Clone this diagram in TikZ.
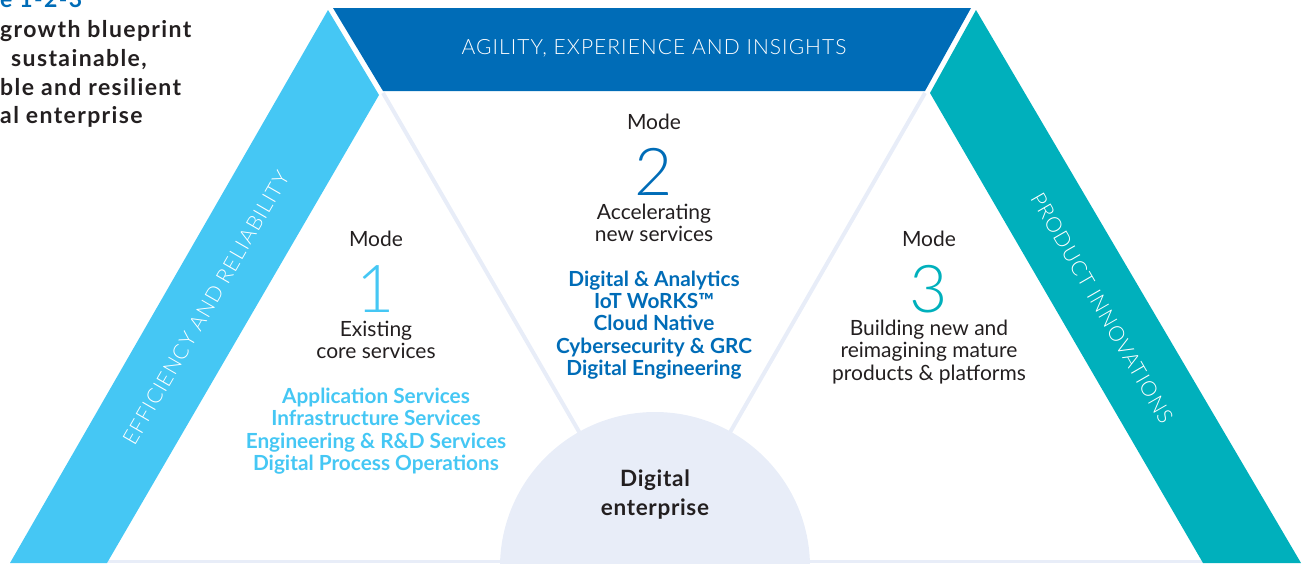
\documentclass[tikz,border=0pt]{standalone}
\usepackage{fontspec}
\setmainfont{Lato}
\newfontfamily\thinfont{Lato Light}
\definecolor{skyband}{HTML}{45C7F4}
\definecolor{blueband}{HTML}{006CB7}
\definecolor{tealband}{HTML}{00B0BC}
\definecolor{paleline}{HTML}{E8EDF8}
\definecolor{inktext}{HTML}{231F20}

\begin{document}
\begin{tikzpicture}[x=1pt,y=-1pt,
		bandtext/.style={text=white,font=\thinfont\addfontfeatures{LetterSpace=5}\fontsize{21}{21}\selectfont},
		modename/.style={text=inktext,font=\fontsize{21}{22}\selectfont},
		modenum/.style={font=\thinfont\fontsize{66}{66}\selectfont},
		modedesc/.style={text=inktext,align=center,font=\fontsize{21}{22.3}\selectfont},
		offer/.style={align=center,font=\bfseries\fontsize{20.8}{22.3}\selectfont},
		title/.style={anchor=base west,inner sep=0pt,font=\bfseries\addfontfeatures{LetterSpace=6}\fontsize{23}{23}\selectfont}]
	\useasboundingbox (0,0) rectangle (1305,563);
	\clip (0,0) rectangle (1305,563);
	\coordinate (topl) at (383,93);
	\coordinate (topr) at (925,93);
	\coordinate (low) at (655,563);
	\coordinate (basel) at (107,561);
	\coordinate (baser) at (1203,561);
	\draw[paleline,line width=4] (topl) -- (low) -- (topr);
	\draw[paleline,line width=3] (basel) -- (baser);
	\fill[skyband] (328,10) -- (379,95) -- (107,563) -- (10,563) -- cycle;
	\fill[blueband] (333,8) -- (971,8) -- (925,91) -- (383,91) -- cycle;
	\fill[tealband] (976,10) -- (1301,563) -- (1203,563) -- (930,93) -- cycle;
	\node[circle,fill=paleline,minimum size=310,inner sep=0pt] (core) at (655,567) {};
	\node[align=center,text=inktext,font=\bfseries\addfontfeatures{LetterSpace=3}\fontsize{22.5}{29}\selectfont] (coretxt) at (655,495) {Digital\\enterprise};

	\node[bandtext] (agility) at (654,48) {AGILITY, EXPERIENCE AND INSIGHTS};
	\node[bandtext,rotate=60] (efficiency) at (206,308) {EFFICIENCY AND RELIABILITY};
	\node[bandtext,rotate=-60] (product) at (1102,308) {PRODUCT INNOVATIONS};

	\node[title,text=blueband] (fig) at (0,7) {e 1-2-3};
	\node[title,text=inktext] (tline1) at (0,37) {growth blueprint};
	\node[title,text=inktext] (tline2) at (11,66) {sustainable,};
	\node[title,text=inktext] (tline3) at (0,95) {ble and resilient};
	\node[title,text=inktext] (tline4) at (0,123) {al enterprise};

	\node[modename] (mode1) at (376,239) {Mode};
	\node[modenum,text=skyband] (num1) at (376,289) {1};
	\node[modedesc] (desc1) at (376,340) {Existing\\core services};
	\node[offer,text=skyband] (offer1) at (376,431) {Application Services\\Infrastructure Services\\Engineering \& R\&D Services\\Digital Process Operations};

	\node[modename] (mode2) at (654,122) {Mode};
	\node[modenum,text=blueband] (num2) at (654,172) {2};
	\node[modedesc] (desc2) at (654,223) {Accelerating\\new services};
	\node[offer,text=blueband] (offer2) at (654,325) {Digital \& Analytics\\IoT WoRKS™\\Cloud Native\\Cybersecurity \& GRC\\Digital Engineering};

	\node[modename] (mode3) at (929,239) {Mode};
	\node[modenum,text=tealband] (num3) at (929,289) {3};
	\node[modedesc] (desc3) at (929,352) {Building new and\\reimagining mature\\products \& platforms};
\end{tikzpicture}
\end{document}
